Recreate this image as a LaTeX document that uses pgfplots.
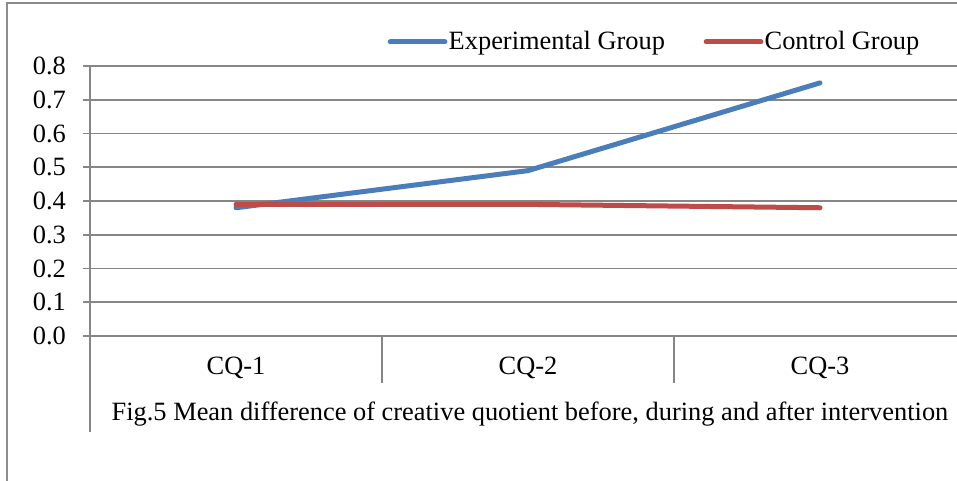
\documentclass[border=0pt]{standalone}
\usepackage{fontspec}
\setmainfont{Liberation Serif}
\usepackage{pgfplots}
\pgfplotsset{compat=1.18}
\definecolor{cblue}{HTML}{4A7EBB}
\definecolor{cred}{HTML}{BE4B48}
\definecolor{cgrid}{HTML}{868686}
\definecolor{cframe}{HTML}{8C8C8C}
\begin{document}
\fontsize{19.8pt}{23pt}\selectfont
\begin{tikzpicture}
\useasboundingbox (0,0) rectangle (717.75pt,360pt);
\clip (0,0) rectangle (717.75pt,360pt);
\draw[cframe, line width=1.2pt] (5.25pt,-1pt) -- (5.25pt,357.75pt) -- (720pt,357.75pt);
\begin{axis}[
  at={(67.5pt,108pt)}, anchor=south west,
  scale only axis, width=657pt, height=202.5pt,
  xmin=0.5, xmax=3.5, ymin=0, ymax=0.8,
  axis line style={draw=none},
  ymajorgrids, grid style={cgrid, line width=1.3pt},
  ytick={0,0.1,...,0.8},
  ytick pos=left, tick align=outside,
  major tick length=5.25pt,
  y tick style={cgrid, line width=1.3pt},
  x tick style={draw=none},
  xtick={1,2,3}, xticklabels={CQ-1,CQ-2,CQ-3},
  yticklabel style={/pgf/number format/fixed, /pgf/number format/fixed zerofill, /pgf/number format/precision=1, font=\fontsize{19.8pt}{23pt}\selectfont, xshift=-6pt},
  /pgf/number format/assume math mode=true,
  xticklabel style={font=\fontsize{19.8pt}{23pt}\selectfont, yshift=-4pt},
  clip=false,
  legend columns=2,
  legend style={draw=none, fill=none, at={(rel axis cs:0.335,1.089)}, anchor=west,
    font=\fontsize{19.8pt}{23pt}\selectfont, nodes={inner sep=1pt},
    /tikz/every even column/.append style={column sep=28pt}},
  legend image code/.code={\draw[#1] (0pt,0pt) -- (41pt,0pt);},
]
\addplot[cblue, line width=3.75pt, line cap=round] coordinates {(1,0.38) (2,0.49) (3,0.75)};
\addlegendentry{Experimental Group}
\addplot[cred, line width=3.75pt, line cap=round] coordinates {(1,0.39) (2,0.39) (3,0.38)};
\addlegendentry{Control Group}
\draw[cgrid, line width=1.3pt] (rel axis cs:0,1) -- ([yshift=-72pt]rel axis cs:0,0);
\draw[cgrid, line width=1.3pt] (axis cs:1.5,0) -- ([yshift=-35.25pt]axis cs:1.5,0);
\draw[cgrid, line width=1.3pt] (axis cs:2.5,0) -- ([yshift=-35.25pt]axis cs:2.5,0);
\draw[cgrid, line width=1.3pt] (axis cs:3.5,0) -- ([yshift=-35.25pt]axis cs:3.5,0);
\node[anchor=base, font=\fontsize{19.8pt}{23pt}\selectfont] at ([xshift=1.5pt,yshift=-63.5pt]axis cs:2,0) {Fig.5 Mean difference of creative quotient before, during and after intervention};
\end{axis}
\end{tikzpicture}
\end{document}
